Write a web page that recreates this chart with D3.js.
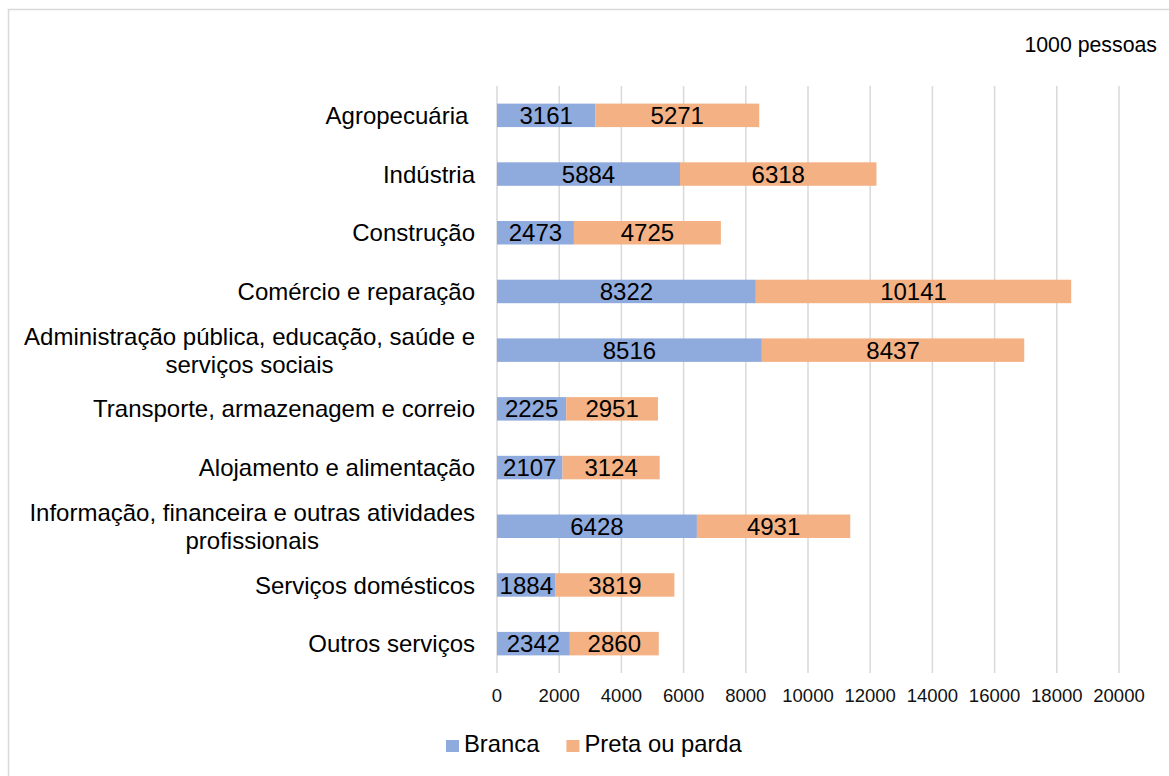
<!DOCTYPE html>
<html>
<head>
<meta charset="utf-8">
<script src="https://cdn.jsdelivr.net/npm/d3@7"></script>
<style>
  body { margin: 0; background: #fff; }
  svg { display: block; font-family: "Liberation Sans", Arial, sans-serif; }
  .cat { white-space: pre; }
</style>
</head>
<body>
<svg id="chart" width="1169" height="776"></svg>
<script>
// data (1000 pessoas)
const categories = [
  ["Agropecuária "],
  ["Indústria"],
  ["Construção"],
  ["Comércio e reparação"],
  ["Administração pública, educação, saúde e", "serviços sociais"],
  ["Transporte, armazenagem e correio"],
  ["Alojamento e alimentação"],
  ["Informação, financeira e outras atividades", "profissionais"],
  ["Serviços domésticos"],
  ["Outros serviços"]
]
const branca = [3161, 5884, 2473, 8322, 8516, 2225, 2107, 6428, 1884, 2342]
const pretaParda = [5271, 6318, 4725, 10141, 8437, 2951, 3124, 4931, 3819, 2860]
const seriesNames = ["Branca", "Preta ou parda"]
const seriesColors = ["#8faadc", "#f4b183"]
const xTicks = [0, 2000, 4000, 6000, 8000, 10000, 12000, 14000, 16000, 18000, 20000]
const unitLabel = "1000 pessoas"

const svg = d3.select("#chart")

// outer frame
svg.append("rect")
  .attr("x", 8.5).attr("y", 9.5)
  .attr("width", 1200).attr("height", 800)
  .attr("fill", "none")
  .attr("stroke", "#d9d9d9")
  .attr("stroke-width", 1.5)

const x = d3.scaleLinear().domain([0, 20000]).range([497, 1119])
const y = d3.scaleBand()
  .domain(d3.range(categories.length))
  .range([86, 673])
  .paddingInner(0.6)
  .paddingOuter(0.3)

// gridlines
svg.append("g")
  .selectAll("line")
  .data(xTicks)
  .join("line")
  .attr("x1", d => x(d)).attr("x2", d => x(d))
  .attr("y1", 86).attr("y2", 673)
  .attr("stroke", "#d9d9d9")
  .attr("stroke-width", 1.5)

// tick labels
svg.append("g")
  .selectAll("text")
  .data(xTicks)
  .join("text")
  .attr("x", d => x(d))
  .attr("y", 702)
  .attr("text-anchor", "middle")
  .attr("font-size", 18.5)
  .attr("fill", "#111")
  .text(d => d)

// stacked bars
const rows = categories.map((c, i) => ({ i, b: branca[i], p: pretaParda[i] }))
const stack = d3.stack().keys(["b", "p"])(rows)

const layers = svg.append("g")
  .selectAll("g")
  .data(stack)
  .join("g")
  .attr("fill", (d, k) => seriesColors[k])

layers.selectAll("rect")
  .data(d => d)
  .join("rect")
  .attr("x", d => x(d[0]))
  .attr("width", d => x(d[1]) - x(d[0]))
  .attr("y", d => y(d.data.i))
  .attr("height", y.bandwidth())

const labels = svg.append("g")
  .selectAll("g")
  .data(stack)
  .join("g")

labels.selectAll("text")
  .data(d => d)
  .join("text")
  .attr("x", d => (x(d[0]) + x(d[1])) / 2)
  .attr("y", d => y(d.data.i) + y.bandwidth() / 2)
  .attr("dy", "0.36em")
  .attr("text-anchor", "middle")
  .attr("font-size", 24)
  .attr("fill", "#000")
  .text(d => d[1] - d[0])

// category labels
const catG = svg.append("g")
categories.forEach((lines, i) => {
  const cy = y(i) + y.bandwidth() / 2
  if (lines.length === 1) {
    catG.append("text")
      .attr("class", "cat")
      .attr("x", 475)
      .attr("y", cy)
      .attr("dy", "0.36em")
      .attr("text-anchor", "end")
      .attr("font-size", 24)
      .attr("fill", "#000")
      .text(lines[0])
  } else {
    const t = catG.append("text")
      .attr("font-size", 24)
      .attr("fill", "#000")
      .attr("text-anchor", "middle")
    const lh = 28.5
    const tspans = lines.map((ln, k) =>
      t.append("tspan")
        .attr("y", cy + (k - (lines.length - 1) / 2) * lh)
        .attr("dy", "0.36em")
        .text(ln))
    let w = 0
    tspans.forEach(s => { w = Math.max(w, s.node().getComputedTextLength()) })
    tspans.forEach(s => s.attr("x", 475 - w / 2))
  }
})

// unit label
svg.append("text")
  .attr("x", 1157)
  .attr("y", 52)
  .attr("text-anchor", "end")
  .attr("font-size", 21.3)
  .attr("fill", "#000")
  .text(unitLabel)

// legend
const legend = svg.append("g")
let lx = 446
seriesNames.forEach((name, k) => {
  legend.append("rect")
    .attr("x", lx).attr("y", 740)
    .attr("width", 13).attr("height", 12)
    .attr("fill", seriesColors[k])
  const t = legend.append("text")
    .attr("x", lx + 18)
    .attr("y", 752)
    .attr("font-size", 23.8)
    .attr("fill", "#000")
    .text(name)
  lx += 18 + t.node().getComputedTextLength() + 27
})
</script>
</body>
</html>
